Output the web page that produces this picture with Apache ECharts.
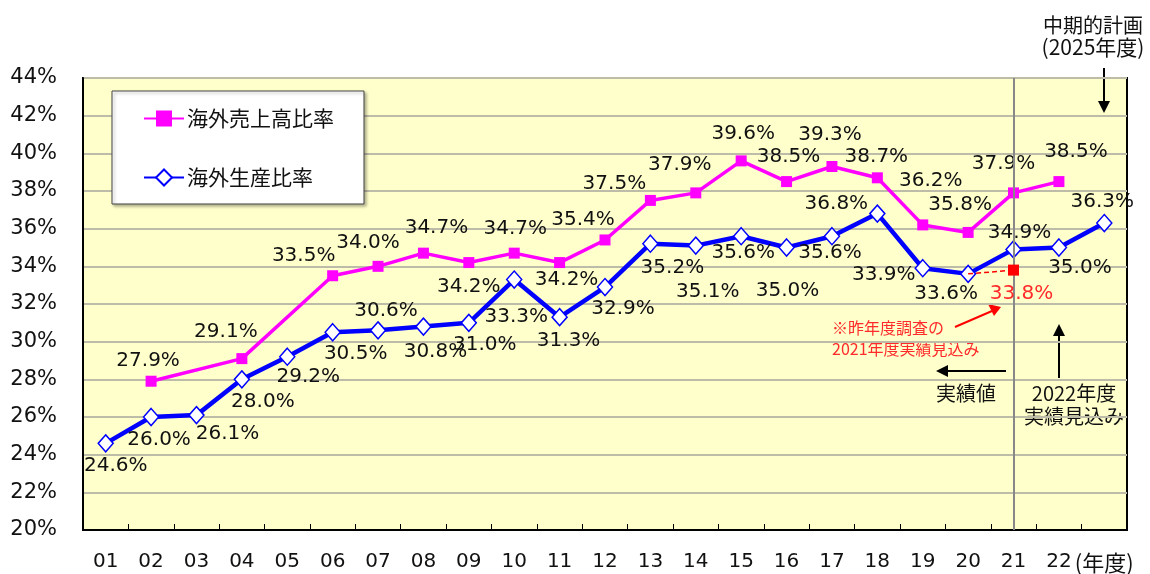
<!DOCTYPE html>
<html><head><meta charset="utf-8">
<script src="https://cdn.jsdelivr.net/npm/echarts@6/dist/echarts.min.js"></script>
<style>html,body{margin:0;padding:0;background:#fff}#c{width:1150px;height:574px}</style>
</head><body><div id="c"></div>
<script>
const categories = ['01','02','03','04','05','06','07','08','09','10','11','12','13','14','15','16','17','18','19','20','21','22','(年度)'];
const yTicks = [20,22,24,26,28,30,32,34,36,38,40,42,44];
const salesRatio = [null,27.9,null,29.1,null,33.5,34.0,34.7,34.2,34.7,34.2,35.4,37.5,37.9,39.6,38.5,39.3,38.7,36.2,35.8,37.9,38.5,null];
const productionRatio = [24.6,26.0,26.1,28.0,29.2,30.5,30.6,30.8,31.0,33.3,31.3,32.9,35.2,35.1,35.6,35.0,35.6,36.8,33.9,33.6,34.9,35.0,36.3];
const prevForecast = [null,null,null,null,null,null,null,null,null,null,null,null,null,null,null,null,null,null,null,33.6,33.8,null,null];
const seriesNames = ['海外売上高比率','海外生産比率'];

// label offsets (style only)
const blueOff = [[10,22],[8,23],[31,19],[21,22],[21,20],[23,22],[8,-20],[12,25],[16,22],[2,37],[9,24],[18,22],[22,24],[12,46],[2,17],[1,43],[-2,17],[-41,-10],[-39,7],[-22,20],[6,-17],[21,20],[-2,-21]];
const pinkOff = [null,[-3,-20],null,[-16,-27],null,[-29,-20],[-10,-24],[13,-25],[0,24],[1,-24],[7,17],[-22,-20],[-36,-17],[-16,-28],[2,-27],[2,-25],[-2,-32],[-1,-21],[8,-44],[-8,-28],[-10,-29],[17,-30],null];

const numFont = 'DejaVu Sans';
const jpFont = 'Noto Sans CJK JP';
const lbl = (off, color) => ({show:true, position:'inside', offset:off, color:color||'#111', fontFamily:numFont, fontSize:20,
  formatter: p => p.value.toFixed(1)+'%'});

const chart = echarts.init(document.getElementById('c'));
chart.setOption({
  animation:false,
  backgroundColor:'#fff',
  grid:{left:83,right:23,top:78,bottom:41,show:true,backgroundColor:'#FFFFCC',borderColor:'#000',borderWidth:2},
  legend:{
    data:seriesNames, orient:'vertical', left:112, top:91, width:243,
    backgroundColor:'#fff', borderColor:'#444', borderWidth:1,
    padding:[17,30,16,31], itemGap:38, itemWidth:40, itemHeight:20,
    textStyle:{fontFamily:jpFont, fontSize:21, color:'#111', padding:[0,0,0,-2]},
    shadowColor:'rgba(0,0,0,0.3)', shadowBlur:3, shadowOffsetX:2, shadowOffsetY:2
  },
  xAxis:{type:'category', data:categories, boundaryGap:true,
    axisLine:{lineStyle:{color:'#000',width:2}},
    axisTick:{show:true, inside:true, length:6, interval:0, lineStyle:{color:'#000',width:1}},
    axisLabel:{interval:0, margin:22, fontFamily:numFont, fontSize:20, color:'#111',
      formatter: v => v==='(年度)' ? '{j|'+v+'}' : v,
      rich:{j:{fontFamily:jpFont, fontSize:22, color:'#111', padding:[0,0,0,0]}}},
    splitLine:{show:false}},
  yAxis:{type:'value', min:yTicks[0], max:yTicks[yTicks.length-1], interval:2,
    axisLine:{show:true, lineStyle:{color:'#000',width:2}},
    axisTick:{show:false},
    axisLabel:{margin:26, fontFamily:numFont, fontSize:21, color:'#111', formatter:'{value}%'},
    splitLine:{show:true, lineStyle:{color:'#BDBCA8', width:2}}},
  series:[
    {name:seriesNames[0], type:'line', connectNulls:true, symbol:'rect', symbolSize:11,
      lineStyle:{color:'#FF00FF', width:3.5}, itemStyle:{color:'#FF00FF'},
      data: salesRatio.map((v,i)=> v==null ? null : ({value:v, label:lbl(pinkOff[i])})), z:3},
    {name:seriesNames[1], type:'line', symbol:'diamond', symbolSize:[15,17],
      lineStyle:{color:'#0000FF', width:4.5}, itemStyle:{color:'#fff', borderColor:'#0000FF', borderWidth:1.5},
      data: productionRatio.map((v,i)=>({value:v, label:lbl(blueOff[i])})), z:4,
      markLine:{silent:true, symbol:['none','none'], label:{show:false},
        lineStyle:{color:'#888', width:2, type:'solid'}, data:[{xAxis:'21'}]}},
    {name:'prev', type:'line', symbol:'rect', symbolSize:11,
      lineStyle:{color:'#FF0000', width:1.5, type:[5,3]}, itemStyle:{color:'#FF0000'},
      data: prevForecast.map((v,i)=>{
        if(v==null) return null;
        if(i===19) return {value:v, symbol:'none'};
        return {value:v, label:lbl([8,24],'#FF2A2A')};
      }), z:5}
  ],
  graphic:[
    {type:'text', x:1093, y:25, style:{text:'中期的計画', fontFamily:jpFont, fontSize:20, fill:'#111', align:'center', verticalAlign:'middle'}},
    {type:'text', x:1093, y:47, style:{text:'(2025年度)', fontFamily:jpFont, fontSize:21, fill:'#111', align:'center', verticalAlign:'middle'}},
    {type:'line', shape:{x1:1104,y1:68,x2:1104,y2:104}, style:{stroke:'#000',lineWidth:2}},
    {type:'polygon', shape:{points:[[1098,101],[1110,101],[1104,113]]}, style:{fill:'#000'}},

    {type:'text', x:1074, y:393, style:{text:'2022年度', fontFamily:jpFont, fontSize:20, fill:'#111', align:'center', verticalAlign:'middle'}},
    {type:'text', x:1074, y:416, style:{text:'実績見込み', fontFamily:jpFont, fontSize:20, fill:'#111', align:'center', verticalAlign:'middle'}},
    {type:'line', shape:{x1:1059,y1:378,x2:1059,y2:333}, style:{stroke:'#000',lineWidth:2}},
    {type:'polygon', shape:{points:[[1053,336],[1065,336],[1059,324]]}, style:{fill:'#000'}},

    {type:'text', x:966, y:393, style:{text:'実績値', fontFamily:jpFont, fontSize:20, fill:'#111', align:'center', verticalAlign:'middle'}},
    {type:'line', shape:{x1:1006,y1:371,x2:944,y2:371}, style:{stroke:'#000',lineWidth:2}},
    {type:'polygon', shape:{points:[[948,365],[948,377],[936,371]]}, style:{fill:'#000'}},

    {type:'text', x:832, y:328, style:{text:'※昨年度調査の', fontFamily:jpFont, fontSize:16, fill:'#FF2A2A', align:'left', verticalAlign:'middle'}},
    {type:'text', x:832, y:349, style:{text:'2021年度実績見込み', fontFamily:jpFont, fontSize:16, fill:'#FF2A2A', align:'left', verticalAlign:'middle'}},
    {type:'line', shape:{x1:955,y1:327,x2:992,y2:311}, style:{stroke:'#FF0000',lineWidth:2}},
    {type:'polygon', shape:{points:[[988,304],[994,316],[1001,307]]}, style:{fill:'#FF0000'}}
  ]
});
</script></body></html>
